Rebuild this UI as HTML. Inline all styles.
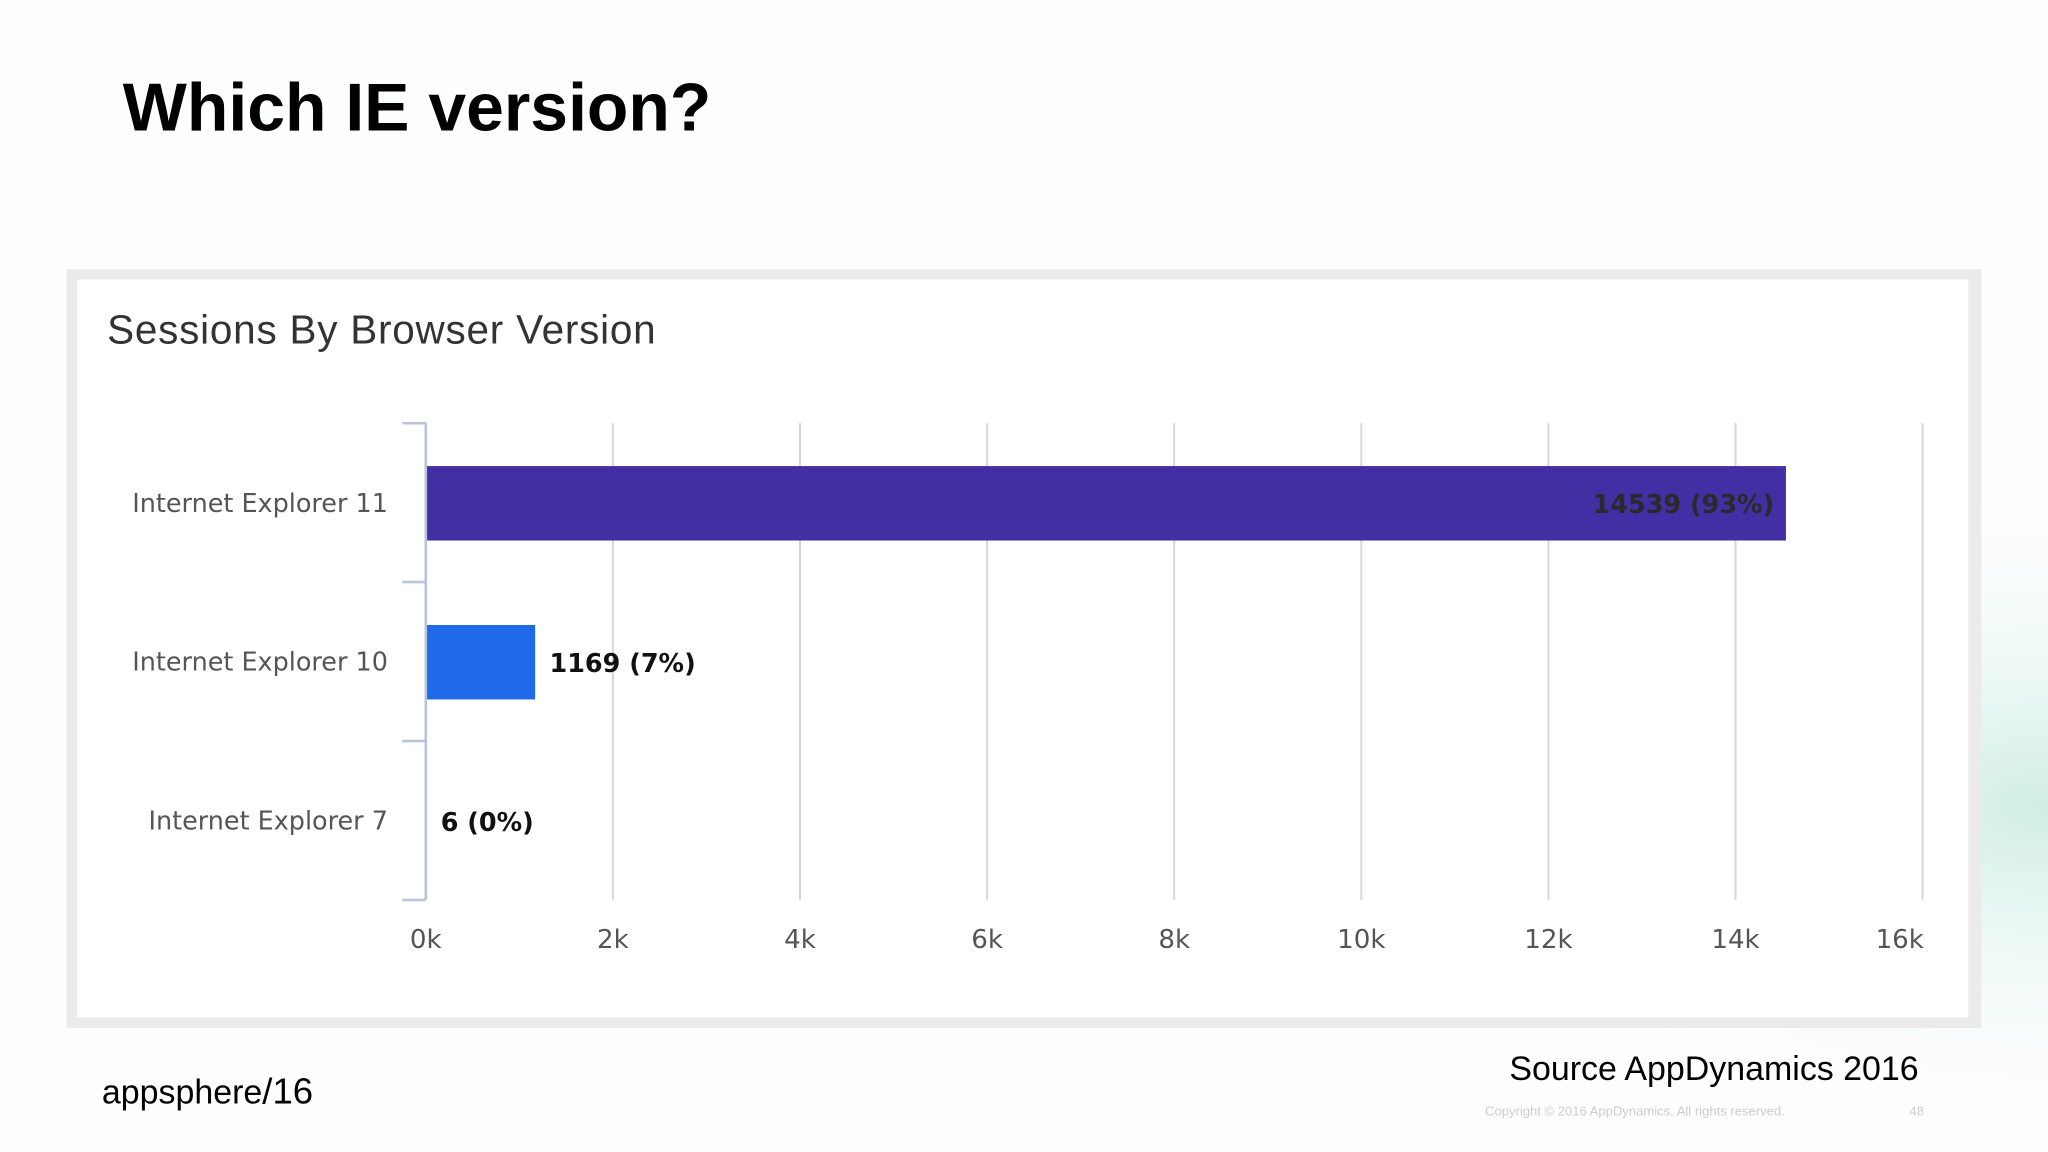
<!DOCTYPE html>
<html><head><meta charset="utf-8"><style>
html,body{margin:0;padding:0;background:#fff;}
svg{display:block;font-family:"Liberation Sans","DejaVu Sans",sans-serif;}
</style></head><body>
<svg id="c" width="2048" height="1152" viewBox="0 0 1568 882">
<defs><radialGradient id="g" cx="1" cy="0.7" r="0.3"><stop offset="0" stop-color="#cfeee4"/><stop offset="1" stop-color="#fff" stop-opacity="0"/></radialGradient></defs>
<rect width="1568" height="882" fill="#fdfefe"/>
<rect width="1568" height="882" fill="url(#g)"/>
<text x="94" y="100" font-size="52" font-weight="bold" fill="#000">Which IE version?</text>
<rect x="51" y="206" width="1466" height="581" fill="#ebebeb"/>
<rect x="59" y="214" width="1448" height="565" fill="#fff"/>
<text x="82" y="263" font-size="31" fill="#333" textLength="420">Sessions By Browser Version</text>
<g id="plot"></g>
<text x="1469" y="827" font-size="26" text-anchor="end" fill="#000">Source AppDynamics 2016</text>
<text x="1137" y="854" font-size="10" fill="#ccc">Copyright © 2016 AppDynamics. All rights reserved.</text>
<text x="1462" y="854" font-size="10" fill="#ccc">48</text>
<text x="78" y="845" font-size="26" fill="#000">appsphere<tspan font-size="28">/16</tspan></text>
</svg>
<script>
const categories=["Internet Explorer 11","Internet Explorer 10","Internet Explorer 7"];
const values=[14539,1169,6];
const labels=["14539 (93%)","1169 (7%)","6 (0%)"];
const ticks=[0,2000,4000,6000,8000,10000,12000,14000,16000];
const tickLabels=["0k","2k","4k","6k","8k","10k","12k","14k","16k"];
const colors=["#432ea4","#1f6ae8","#1f6ae8"];
const NS="http://www.w3.org/2000/svg";
const g=document.getElementById("plot");
const X0=326,X1=1472,Y0=324,Y1=689,xMax=16000;
const x=v=>X0+v/xMax*(X1-X0);
const band=(Y1-Y0)/categories.length;
const yc=i=>Y0+band*(i+0.5);
function mk(t,a){const e=document.createElementNS(NS,t);for(const k in a)e.setAttribute(k,a[k]);g.appendChild(e);return e;}
ticks.forEach((t,i)=>{
 if(i>0){const l=mk("line",{x1:x(t),x2:x(t),y1:Y0,y2:Y1,stroke:"#d6d6d6","stroke-width":1.5});
 
 }
 const last=i===ticks.length-1;
 const tx=mk("text",{x:last?x(t)+1:x(t),y:726,"font-size":20,fill:"#555","text-anchor":last?"end":"middle","font-family":"DejaVu Sans, sans-serif"});tx.textContent=tickLabels[i];
 
 
});
const ax=mk("line",{x1:X0,x2:X0,y1:Y0,y2:Y1,stroke:"#b8c4dc","stroke-width":2});


for(let i=0;i<=categories.length;i++){const tk=mk("line",{x1:308,x2:X0,y1:Y0+band*i,y2:Y0+band*i,stroke:"#b8c4dc","stroke-width":2});
 
 }
categories.forEach((c,i)=>{
 const t=mk("text",{x:297,y:yc(i)+7,"font-size":19.5,fill:"#555","text-anchor":"end","font-family":"DejaVu Sans, sans-serif"});t.textContent=c;
 
 
 const w=x(values[i])-X0;
 const b=mk("rect",{x:X0+1,y:yc(i)-28,width:Math.max(0,w-1),height:57,fill:colors[i]});
 
 
 const inside=w>300;
 const v=mk("text",{x:inside?x(values[i])-9:x(values[i])+11,y:yc(i)+8,"font-size":19.5,"font-weight":"bold",fill:inside?"#2a2a2a":"#111","text-anchor":inside?"end":"start","font-family":"DejaVu Sans, sans-serif"});
 v.textContent=labels[i];
 
 
});
</script>
</body></html>
